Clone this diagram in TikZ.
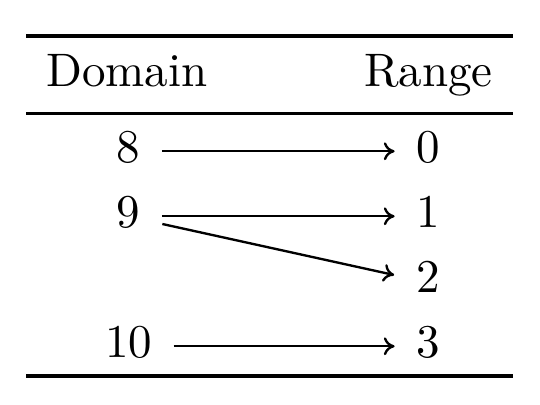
\documentclass[tikz,border=0pt]{standalone}
\usetikzlibrary{arrows.meta}
\begin{document}
\begin{tikzpicture}[x=0.2128pt, y=-0.2128pt,
    head/.style={anchor=base, inner sep=0pt},
    num/.style={anchor=base, inner sep=0pt, text height=6.5pt, text depth=1.5pt},
    tip/.style={-{Computer Modern Rightarrow[length=2.3pt, width=3.8pt]}, line width=0.5pt},
    maps/.style={tip, shorten <=4.4pt, shorten >=4.4pt}]
    \useasboundingbox (0,0) rectangle (540,405);

    % 表线
    \draw[line width=0.8pt] (26,36) -- (513,36);
    \draw[line width=0.6pt] (26,113.5) -- (513,113.5);
    \draw[line width=0.8pt] (26,376) -- (513,376);

    % 表头
    \node[head] (domain) at (127,87) {Domain};
    \node[head] (range) at (428.5,87) {Range};

    % 定义域
    \node[num] (d8) at (128.5,163) {8};
    \node[num] (d9) at (128.5,228) {9};
    \node[num] (d10) at (128.5,358) {10};

    % 值域
    \node[num] (r0) at (428,163) {0};
    \node[num] (r1) at (428,228) {1};
    \node[num] (r2) at (428,293) {2};
    \node[num] (r3) at (428,358) {3};

    % 映射
    \draw[maps] (d8) -- (r0);
    \draw[maps] (d9) -- (r1);
    \draw[tip] ([shift={(4.5pt,-1.65pt)}]d9.east) -- ([shift={(-4.5pt,1.33pt)}]r2.west);
    \draw[maps] (d10) -- (r3);
\end{tikzpicture}
\end{document}
